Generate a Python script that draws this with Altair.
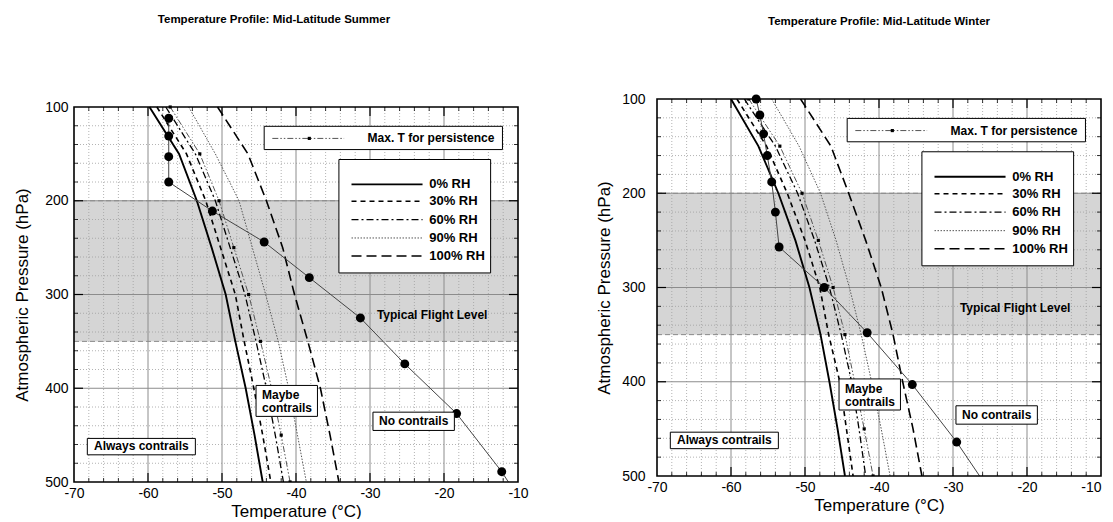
import altair as alt
import pandas as pd

# ---------------- data ----------------
pressure_levels = [100, 150, 200, 250, 300, 350, 400, 450, 500]

summer_rh0 = [-59.8, -55.8, -53.4, -51.4, -49.5, -48.2, -46.8, -45.6, -44.5]
summer_rh30 = [-58.8, -54.8, -52.2, -50.2, -48.2, -47.0, -45.7, -44.5, -43.4]
summer_rh60 = [-57.6, -53.6, -50.9, -48.9, -46.9, -45.4, -44.0, -42.8, -41.7]
summer_maxT = [-57.0, -53.0, -50.4, -48.4, -46.4, -44.8, -43.3, -42.0, -40.8]
summer_rh90 = [-54.5, -50.9, -47.7, -45.9, -44.1, -42.4, -41.0, -39.8, -38.6]
summer_rh100 = [-50.6, -46.5, -44.0, -41.8, -40.2, -38.4, -36.7, -35.4, -34.2]

winter_rh0 = [-60.0, -56.3, -53.6, -51.3, -49.4, -47.9, -46.7, -45.6, -44.6]
winter_rh30 = [-59.2, -55.2, -52.4, -50.0, -48.0, -46.8, -45.3, -44.4, -43.5]
winter_rh60 = [-58.2, -54.0, -51.0, -48.7, -46.7, -45.1, -43.7, -42.7, -41.8]
winter_maxT = [-57.6, -53.4, -50.4, -48.2, -46.2, -44.6, -43.3, -42.0, -40.8]
winter_rh90 = [-54.5, -50.8, -47.9, -45.8, -44.0, -42.4, -41.0, -39.7, -38.5]
winter_rh100 = [-50.6, -46.5, -44.1, -41.8, -39.7, -38.1, -36.8, -35.4, -34.2]

summer_profile_T = [-57.2, -57.2, -57.2, -57.2, -51.3, -44.3, -38.2, -31.3, -25.3, -18.3, -12.2]
summer_profile_P = [112, 131, 153, 180, 211, 244, 282, 325, 374, 427, 489]
summer_profile_edge = [-11.3, 500]

winter_profile_T = [-56.6, -56.1, -55.6, -55.1, -54.5, -54.0, -53.5, -47.4, -41.6, -35.5, -29.5]
winter_profile_P = [100, 117, 137, 160, 188, 220, 257, 300, 348, 403, 464]
winter_profile_edge = [-26.4, 500]

x_ticks = [-70, -60, -50, -40, -30, -20, -10]
y_ticks = [100, 200, 300, 400, 500]
flight_level_band = [200, 350]

rh_labels = ["0% RH", "30% RH", "60% RH", "90% RH", "100% RH"]
persistence_label = "Max. T for persistence"
region_labels = ["Typical Flight Level", "Maybe", "contrails", "No contrails", "Always contrails"]

# ---------------- layout / style (not data) ----------------
W = 444
FONT = "Liberation Sans"

styles = {
    "0% RH": dict(stroke="black", strokeWidth=1.9),
    "30% RH": dict(stroke="black", strokeWidth=1.6, strokeDash=[5, 4]),
    "60% RH": dict(stroke="black", strokeWidth=1.3, strokeDash=[7, 3, 2, 3]),
    "90% RH": dict(stroke="#555555", strokeWidth=1.0, strokeDash=[1.5, 1.5]),
    "100% RH": dict(stroke="black", strokeWidth=1.6, strokeDash=[10, 5]),
    "maxT": dict(stroke="#555555", strokeWidth=1.0, strokeDash=[6, 2, 1.5, 2, 1.5, 2]),
}

maxT_box = dict(t1=-44.3, t2=-12.1, p1=120.6, p2=145.4)
maxT_sample = dict(t1=-43.2, t2=-33.5, p=133.5, tm=-38.2, tt=-13.2)
rh_box = dict(t1=-34.2, t2=-13.7, p1=156.0, p2=277.0)
rh_rows = [182.5, 200.6, 220.1, 239.7, 258.9]
rh_sample = dict(t1=-32.5, t2=-22.9, tt=-22.0)


def make_panel(title_text, curves, maxT, prof_T, prof_P, prof_edge, plot_h, top,
               title_offset, title_dx, ylab_pad, ytitle_pad, xlab_pad, xtitle_pad, last_label_align):
    total_h = top + plot_h
    bottom = total_h
    xs = alt.Scale(domain=[x_ticks[0], x_ticks[-1]], nice=False, zero=False)
    ys = alt.Scale(domain=[y_ticks[0], y_ticks[-1]], range=[top, bottom], nice=False, zero=False)
    xaxis = alt.Axis(values=x_ticks, title="Temperature (°C)", labelPadding=xlab_pad,
                     titlePadding=xtitle_pad, labelExpr="datum.value + ''", labelFlush=False,
                     labelAlign={"condition": {"test": "datum.value == %d" % x_ticks[-1],
                                               "value": last_label_align}, "value": "center"})
    yaxis = alt.Axis(values=y_ticks, title="Atmospheric Pressure (hPa)", labelPadding=ylab_pad,
                     titlePadding=ytitle_pad, labelExpr="datum.value + ''", labelFlush=False)

    def X(f):
        return alt.X(f, type="quantitative", scale=xs, axis=xaxis)

    def Y(f):
        return alt.Y(f, type="quantitative", scale=ys, axis=yaxis)

    layers = []
    # flight level band
    band = pd.DataFrame({"p1": [flight_level_band[0]], "p2": [flight_level_band[1]]})
    layers.append(alt.Chart(band).mark_rect(fill="#d5d5d5").encode(
        x=alt.value(0), x2=alt.value(W), y=Y("p1"), y2="p2"))

    # minor grid
    minor_T = [t for t in range(-68, -10, 2) if t % 10 != 0]
    minor_P = [p for p in range(120, 500, 20) if p % 100 != 0]
    layers.append(alt.Chart(pd.DataFrame({"T": minor_T})).mark_rule(
        stroke="#a0a0a0", strokeWidth=0.8, strokeDash=[1, 2]).encode(
        x=X("T"), y=alt.value(top), y2=alt.value(bottom)))
    layers.append(alt.Chart(pd.DataFrame({"P": minor_P})).mark_rule(
        stroke="#a0a0a0", strokeWidth=0.8, strokeDash=[1, 2]).encode(
        y=Y("P"), x=alt.value(0), x2=alt.value(W)))
    # major grid
    layers.append(alt.Chart(pd.DataFrame({"T": x_ticks[1:-1]})).mark_rule(
        stroke="#8c8c8c", strokeWidth=1).encode(x=X("T"), y=alt.value(top), y2=alt.value(bottom)))
    layers.append(alt.Chart(pd.DataFrame({"P": y_ticks[1:-1]})).mark_rule(
        stroke="#8c8c8c", strokeWidth=1).encode(y=Y("P"), x=alt.value(0), x2=alt.value(W)))
    # band edges
    layers.append(alt.Chart(pd.DataFrame({"P": flight_level_band})).mark_rule(
        stroke="#8a8a8a", strokeWidth=1, strokeDash=[5, 3]).encode(
        y=Y("P"), x=alt.value(0), x2=alt.value(W)))

    # inward ticks
    maj_T = pd.DataFrame({"T": x_ticks[1:-1]})
    maj_P = pd.DataFrame({"P": y_ticks[1:-1]})
    mT = pd.DataFrame({"T": minor_T})
    mP = pd.DataFrame({"P": minor_P})
    tick = dict(stroke="black", strokeWidth=1.2)
    mtick = dict(stroke="black", strokeWidth=0.8)
    layers += [
        alt.Chart(maj_T).mark_rule(**tick).encode(x=X("T"), y=alt.value(top), y2=alt.value(top + 9)),
        alt.Chart(maj_T).mark_rule(**tick).encode(x=X("T"), y=alt.value(bottom), y2=alt.value(bottom - 9)),
        alt.Chart(maj_P).mark_rule(**tick).encode(y=Y("P"), x=alt.value(0), x2=alt.value(9)),
        alt.Chart(maj_P).mark_rule(**tick).encode(y=Y("P"), x=alt.value(W), x2=alt.value(W - 9)),
        alt.Chart(mT).mark_rule(**mtick).encode(x=X("T"), y=alt.value(bottom), y2=alt.value(bottom - 4)),
        alt.Chart(mT).mark_rule(**mtick).encode(x=X("T"), y=alt.value(top), y2=alt.value(top + 4)),
        alt.Chart(mP).mark_rule(**mtick).encode(y=Y("P"), x=alt.value(0), x2=alt.value(4)),
        alt.Chart(mP).mark_rule(**mtick).encode(y=Y("P"), x=alt.value(W), x2=alt.value(W - 4)),
    ]

    # RH curves
    for label, temps in zip(rh_labels, curves):
        df = pd.DataFrame({"T": temps, "P": pressure_levels})
        layers.append(alt.Chart(df).mark_line(clip=True, **styles[label]).encode(
            x=X("T"), y=Y("P"), order="P:Q"))
    # max T for persistence
    dfm = pd.DataFrame({"T": maxT, "P": pressure_levels})
    layers.append(alt.Chart(dfm).mark_line(clip=True, **styles["maxT"]).encode(
        x=X("T"), y=Y("P"), order="P:Q"))
    layers.append(alt.Chart(dfm).mark_square(size=10, color="black", opacity=1, clip=True).encode(
        x=X("T"), y=Y("P")))

    # temperature profile
    dfp = pd.DataFrame({"T": prof_T, "P": prof_P})
    dfl = pd.DataFrame({"T": prof_T + [prof_edge[0]], "P": prof_P + [prof_edge[1]]})
    layers.append(alt.Chart(dfl).mark_line(clip=True, stroke="#444444", strokeWidth=1).encode(
        x=X("T"), y=Y("P"), order="P:Q"))
    layers.append(alt.Chart(dfp).mark_circle(size=80, color="black", opacity=1).encode(
        x=X("T"), y=Y("P")))

    # legend: max T
    layers.append(alt.Chart(pd.DataFrame([maxT_box])).mark_rect(
        fill="white", stroke="black", strokeWidth=1).encode(x=X("t1"), x2="t2", y=Y("p1"), y2="p2"))
    layers.append(alt.Chart(pd.DataFrame([maxT_sample])).mark_rule(**styles["maxT"]).encode(
        x=X("t1"), x2="t2", y=Y("p")))
    layers.append(alt.Chart(pd.DataFrame([maxT_sample])).mark_square(size=10, color="black", opacity=1).encode(
        x=X("tm"), y=Y("p")))
    layers.append(alt.Chart(pd.DataFrame({"t": [maxT_sample["tt"]], "p": [maxT_sample["p"]],
                                          "s": [persistence_label]})).mark_text(
        align="right", baseline="middle", font=FONT, fontSize=12, fontWeight="bold", color="black").encode(
        x=X("t"), y=Y("p"), text="s:N"))

    # legend: RH
    layers.append(alt.Chart(pd.DataFrame([rh_box])).mark_rect(
        fill="white", stroke="black", strokeWidth=1).encode(x=X("t1"), x2="t2", y=Y("p1"), y2="p2"))
    for label, p in zip(rh_labels, rh_rows):
        d = pd.DataFrame({"t1": [rh_sample["t1"]], "t2": [rh_sample["t2"]], "p": [p],
                          "tt": [rh_sample["tt"]], "s": [label]})
        layers.append(alt.Chart(d).mark_rule(**styles[label]).encode(x=X("t1"), x2="t2", y=Y("p")))
        layers.append(alt.Chart(d).mark_text(align="left", baseline="middle", font=FONT, fontSize=13,
                                             fontWeight="bold", color="black").encode(
            x=X("tt"), y=Y("p"), text="s:N"))

    # region annotations
    boxes = pd.DataFrame({
        "t1": [-45.4, -29.6, -68.2], "t2": [-37.1, -18.6, -53.6],
        "p1": [397.0, 425.5, 453.5], "p2": [430.0, 445.0, 471.0]})
    layers.append(alt.Chart(boxes).mark_rect(fill="white", stroke="black", strokeWidth=1).encode(
        x=X("t1"), x2="t2", y=Y("p1"), y2="p2"))
    centered = pd.DataFrame({"t": [-21.6, -24.1, -60.9], "p": [321.5, 435.0, 462.0],
                             "s": [region_labels[0], region_labels[3], region_labels[4]]})
    layers.append(alt.Chart(centered).mark_text(align="center", baseline="middle", font=FONT, fontSize=12,
                                                fontWeight="bold", color="black").encode(
        x=X("t"), y=Y("p"), text="s:N"))
    maybe = pd.DataFrame({"t": [-44.6, -44.6], "p": [407.5, 421.5], "s": region_labels[1:3]})
    layers.append(alt.Chart(maybe).mark_text(align="left", baseline="middle", font=FONT, fontSize=12,
                                             fontWeight="bold", color="black").encode(
        x=X("t"), y=Y("p"), text="s:N"))

    # plot frame
    frame = pd.DataFrame({"t1": [x_ticks[0]], "t2": [x_ticks[-1]], "p1": [y_ticks[0]], "p2": [y_ticks[-1]]})
    layers.append(alt.Chart(frame).mark_rect(filled=False, stroke="black", strokeWidth=1.6).encode(
        x=X("t1"), x2="t2", y=Y("p1"), y2="p2"))

    return alt.layer(*layers).properties(
        width=W, height=total_h,
        title=alt.TitleParams(title_text, fontSize=11.5, fontWeight="bold", font=FONT, color="black",
                              anchor="middle", frame="group", offset=title_offset, dx=title_dx))


left = make_panel("Temperature Profile: Mid-Latitude Summer",
                  [summer_rh0, summer_rh30, summer_rh60, summer_rh90, summer_rh100], summer_maxT,
                  summer_profile_T, summer_profile_P, summer_profile_edge, 375, 8,
                  title_offset=74, title_dx=-22, ylab_pad=6, ytitle_pad=13, xlab_pad=4, xtitle_pad=3,
                  last_label_align="center")
right = make_panel("Temperature Profile: Mid-Latitude Winter",
                   [winter_rh0, winter_rh30, winter_rh60, winter_rh90, winter_rh100], winter_maxT,
                   winter_profile_T, winter_profile_P, winter_profile_edge, 377, 0,
                   title_offset=65, title_dx=0, ylab_pad=12, ytitle_pad=8, xlab_pad=4, xtitle_pad=3,
                   last_label_align="right")

chart = alt.hconcat(left, right, spacing=66).properties(
    padding={"left": 5, "top": 5, "right": 0, "bottom": 0}
).configure_view(
    stroke="transparent", strokeWidth=0
).configure_axis(
    grid=False, ticks=False, tickSize=0, domain=False,
    labelFont=FONT, labelFontSize=14, labelColor="black",
    titleFont=FONT, titleFontSize=17, titleFontWeight="normal", titleColor="black"
)

chart.save("out.html", embed_options={"renderer": "svg", "actions": False})
